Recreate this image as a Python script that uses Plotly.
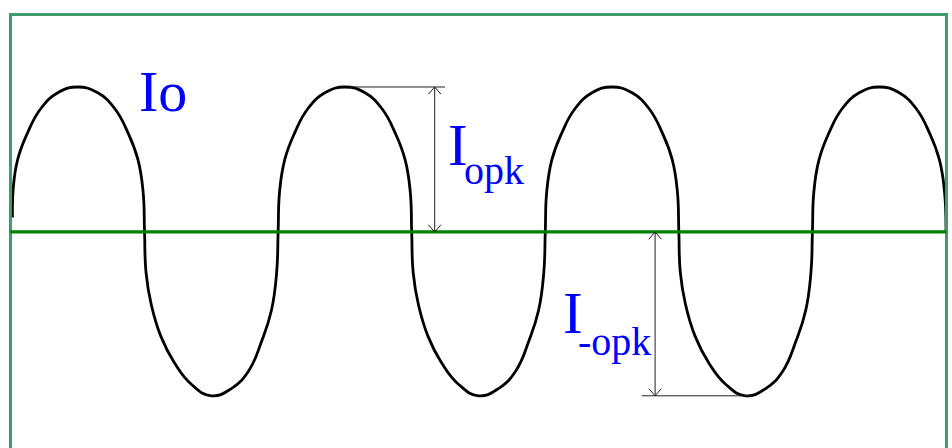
import plotly.graph_objects as go

# waveform: phase in degrees, current in units of Iopk
phase_deg = [
    2, 3, 9, 22, 40, 63, 90, 117, 140, 158, 171, 178, 180,
    182, 189, 202, 220, 243, 270, 297, 320, 338, 351, 358, 360,
    362, 369, 382, 400, 423, 450, 477, 500, 518, 531, 538, 540,
    542, 549, 562, 580, 603, 630, 657, 680, 698, 711, 718, 720,
    722, 729, 742, 760, 783, 810, 837, 860, 878, 891, 898, 900,
    902, 909, 922, 940, 963, 990, 1017, 1040, 1058, 1071, 1078, 1080,
    1082, 1089, 1102, 1120, 1143, 1170, 1197, 1220, 1238, 1251, 1258, 1260,
]
current = [
    0.1, 0.3, 0.5, 0.68, 0.85, 0.96, 1.0, 0.96, 0.85, 0.68, 0.5, 0.28, 0,
    -0.28, -0.5, -0.72, -0.9, -1.05, -1.13, -1.08, -0.96, -0.75, -0.54, -0.28, 0,
    0.28, 0.5, 0.68, 0.85, 0.96, 1.0, 0.96, 0.85, 0.68, 0.5, 0.28, 0,
    -0.28, -0.5, -0.72, -0.9, -1.05, -1.13, -1.08, -0.96, -0.75, -0.54, -0.28, 0,
    0.28, 0.5, 0.68, 0.85, 0.96, 1.0, 0.96, 0.85, 0.68, 0.5, 0.28, 0,
    -0.28, -0.5, -0.72, -0.9, -1.05, -1.13, -1.08, -0.96, -0.75, -0.54, -0.28, 0,
    0.28, 0.5, 0.68, 0.85, 0.96, 1.0, 0.96, 0.85, 0.68, 0.5, 0.28, 0,
]

peak_pos = 1.0
peak_neg = -1.13

# where the two dimension arrows sit (phase) and how far their leader lines run
pos_arrow_x = 571
pos_leader = [457, 585]
neg_arrow_x = 868
neg_leader = [850, 998]

BLUE = "#0000ff"
SERIF = "Liberation Serif, Times New Roman, serif"

fig = go.Figure()
fig.add_trace(go.Scatter(
    x=phase_deg, y=current, mode="lines",
    line=dict(color="black", width=2.8, shape="spline", smoothing=1.3),
    hoverinfo="skip", showlegend=False,
))

shapes = []
# outer green frame
shapes.append(dict(type="rect", xref="paper", yref="paper",
                   x0=0.011, x1=0.9942, y0=-0.05, y1=0.9676,
                   line=dict(color="#3d9b6b", width=3)))
# zero axis
shapes.append(dict(type="line", xref="paper", yref="y",
                   x0=0.011, x1=0.9942, y0=0, y1=0,
                   line=dict(color="#008000", width=3.2)))


def dim_arrow(x, y_from, y_to, leader):
    dark = dict(color="#222222", width=1)
    out = [
        dict(type="line", x0=x, x1=x, y0=y_from, y1=y_to, line=dark),
        dict(type="line", x0=leader[0], x1=leader[1], y0=y_to, y1=y_to, line=dark),
    ]
    hx, hy = 8.5, 0.05
    up = 1 if y_to > y_from else -1
    # open "V" heads at both ends, pointing outwards
    for yy, sgn in ((y_from, up), (y_to, -up)):
        out.append(dict(type="path",
                        path=f"M {x - hx},{yy + sgn * hy} L {x},{yy} L {x + hx},{yy + sgn * hy}",
                        line=dark))
    return out


shapes += dim_arrow(pos_arrow_x, 0, peak_pos, pos_leader)
shapes += dim_arrow(neg_arrow_x, 0, peak_neg, neg_leader)


def label(x, y, text, size):
    return dict(x=x, y=y, text=text, showarrow=False, xanchor="center", yanchor="middle",
                font=dict(family=SERIF, size=size, color=BLUE))


annotations = [
    label(205, 0.972, "Io", 58),
    label(602, 0.603, "I", 59),
    label(651, 0.423, "opk", 40),
    label(757, -0.559, "I", 59),
    label(813, -0.756, "-opk", 40),
]

fig.update_layout(
    width=952, height=448,
    margin=dict(l=0, r=0, t=0, b=0),
    paper_bgcolor="white", plot_bgcolor="white",
    xaxis=dict(range=[-14.8, 1268.1], visible=False, fixedrange=True),
    yaxis=dict(range=[-1.49, 1.6], visible=False, fixedrange=True),
    shapes=shapes, annotations=annotations,
)

fig.write_html("out.html", config={"displayModeBar": False},
               post_script="document.body.style.margin='0';")
